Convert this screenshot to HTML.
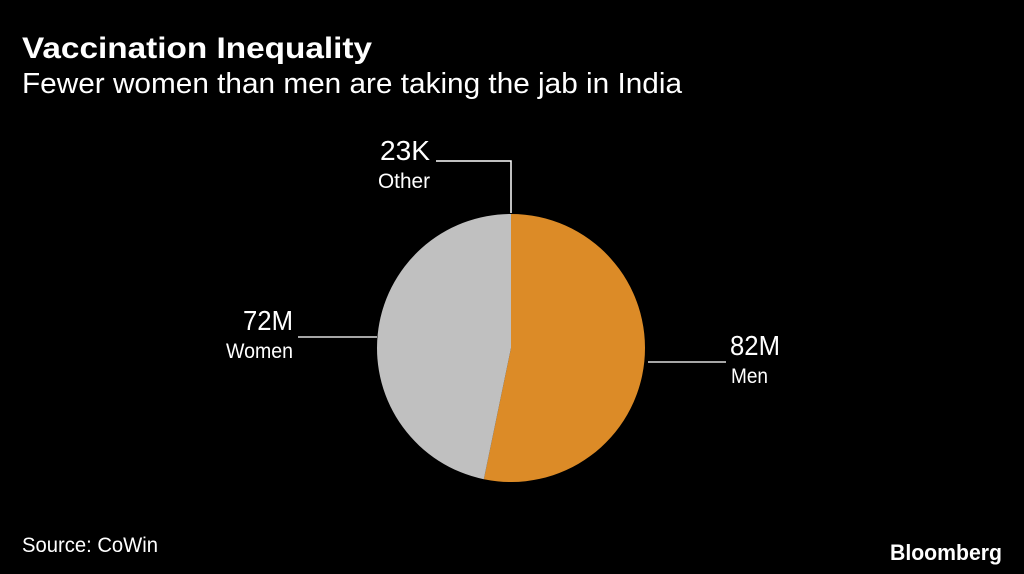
<!DOCTYPE html>
<html><head><meta charset="utf-8"><style>
html,body{margin:0;padding:0;background:#000;}
svg{display:block;}
text{font-family:"Liberation Sans",sans-serif;fill:#fff;}
</style></head><body>
<svg width="1024" height="574" viewBox="0 0 1024 574">
<text x="22" y="58" font-size="30" font-weight="bold" textLength="350" lengthAdjust="spacingAndGlyphs">Vaccination Inequality</text>
<text x="22" y="93" font-size="29" textLength="660" lengthAdjust="spacingAndGlyphs" fill="#eee">Fewer women than men are taking the jab in India</text>
<g id="pie"></g>
<polyline points="436,161 511,161 511,213" fill="none" stroke="#fff" stroke-width="1.5"/>
<text x="380" y="160" font-size="28" textLength="50" lengthAdjust="spacingAndGlyphs">23K</text>
<text x="378" y="188" font-size="21" textLength="52" lengthAdjust="spacingAndGlyphs">Other</text>
<line x1="298" y1="337" x2="377" y2="337" stroke="#ddd" stroke-width="1.5"/>
<text x="243" y="330" font-size="28" textLength="50" lengthAdjust="spacingAndGlyphs">72M</text>
<text x="226" y="358" font-size="21" textLength="67" lengthAdjust="spacingAndGlyphs">Women</text>
<line x1="648" y1="362" x2="726" y2="362" stroke="#ddd" stroke-width="1.5"/>
<text x="730" y="355" font-size="28" textLength="50" lengthAdjust="spacingAndGlyphs">82M</text>
<text x="731" y="383" font-size="21" textLength="37" lengthAdjust="spacingAndGlyphs">Men</text>
<text x="22" y="552" font-size="21" fill="#ccc" textLength="136" lengthAdjust="spacingAndGlyphs">Source: CoWin</text>
<text x="1002" y="560" font-size="22" font-weight="bold" fill="#ddd" text-anchor="end" textLength="112" lengthAdjust="spacingAndGlyphs">Bloomberg</text>
</svg>
<script>
const categories = ["Men", "Other", "Women"];
const values = [82000000, 23000, 72000000];
const colors = ["#dc8b27", "#ffffff", "#c0c0c0"];
const cx = 511, cy = 348, r = 134;
const total = values.reduce((a,b)=>a+b,0);
const g = document.getElementById('pie');
function pt(a){return [cx + r*Math.sin(a), cy - r*Math.cos(a)];}
let start = 0;
values.forEach((v,i)=>{
  const ang = v/total*2*Math.PI;
  const end = start + ang;
  const p0 = pt(start), p1 = pt(end);
  const large = ang > Math.PI ? 1 : 0;
  const path = document.createElementNS('http://www.w3.org/2000/svg','path');
  path.setAttribute('d', `M${cx},${cy} L${p0[0]},${p0[1]} A${r},${r} 0 ${large} 1 ${p1[0]},${p1[1]} Z`);
  path.setAttribute('fill', colors[i]);
  
  
  g.appendChild(path);
  start = end;
});
</script>
</body></html>
